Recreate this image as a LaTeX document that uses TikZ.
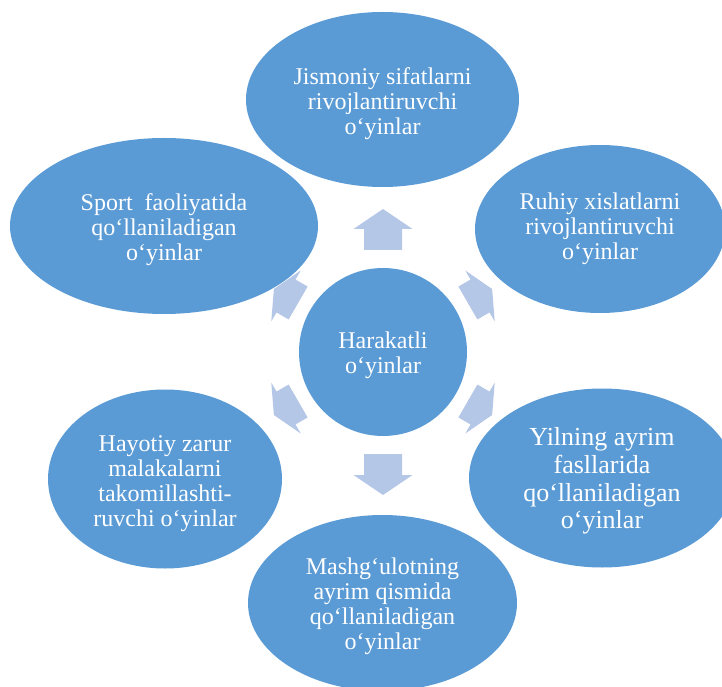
\documentclass[tikz,border=0pt]{standalone}
\usepackage{fontspec}
\setmainfont[Ligatures=NoCommon]{Liberation Serif}
\usetikzlibrary{shapes.geometric}

\definecolor{bubble}{HTML}{5B9BD5}
\definecolor{arrowfill}{HTML}{B4C7E7}

% one block arrow pointing away from the hub at angle #1,
% tail at radius #2, head base at radius #3, tip at radius #4
\newcommand\radialarrow[4]{%
  \begin{scope}[shift={(hub.center)}, rotate=#1]
    \fill[arrowfill] (#2,-19) -- (#3,-19) -- (#3,-29.5) -- (#4,0)
      -- (#3,29.5) -- (#3,19) -- (#2,19) -- cycle;
  \end{scope}}

\tikzset{
  bubblenode/.style={ellipse, fill=bubble, draw=none, inner sep=0pt},
  bubbletext/.style={text=white, align=center, inner sep=0pt,
    font=\fontsize{24}{25}\selectfont},
}

\begin{document}
\begin{tikzpicture}[x=1pt, y=1pt]
  \useasboundingbox (0,0) rectangle (722,686);
  \clip (0,0) rectangle (722,686);

  % hub
  \node[bubblenode, circle, minimum size=168pt] (hub) at (383,334) {};
  \node[bubbletext] (hub-t) at ([yshift=-3]hub.center) {Harakatli\\o‘yinlar};

  % outer bubbles
  \node[bubblenode, minimum width=273pt, minimum height=175pt] (phys) at (382.5,586.5) {};
  \node[bubbletext] (phys-t) at ([yshift=-4.5]phys.center)
    {Jismoniy sifatlarni\\rivojlantiruvchi\\o‘yinlar};

  \node[bubblenode, minimum width=250pt, minimum height=168pt] (psych) at (600,457) {};
  \node[bubbletext] (psych-t) at (psych.center)
    {Ruhiy xislatlarni\\rivojlantiruvchi\\o‘yinlar};

  \node[bubblenode, minimum width=266pt, minimum height=179pt] (season) at (602,208) {};
  \node[bubbletext, font=\fontsize{26}{27.7}\selectfont] (season-t) at ([yshift=-3]season.center)
    {Yilning ayrim\\fasllarida\\qo‘llaniladigan\\o‘yinlar};

  \node[bubblenode, minimum width=269pt, minimum height=176pt] (lesson) at (382.5,83) {};
  \node[bubbletext] (lesson-t) at ([yshift=-3]lesson.center)
    {Mashg‘ulotning\\ayrim qismida\\qo‘llaniladigan\\o‘yinlar};

  \node[bubblenode, minimum width=234pt, minimum height=179pt] (life) at (165,207) {};
  \node[bubbletext] (life-t) at ([yshift=-4.5]life.center)
    {Hayotiy zarur\\malakalarni\\takomillashti-\\ruvchi o‘yinlar};

  \node[bubblenode, minimum width=308pt, minimum height=176pt] (sport) at (164,460) {};
  \node[bubbletext] (sport-t) at ([yshift=-4]sport.center)
    {Sport\ \ faoliyatida\\qo‘llaniladigan\\o‘yinlar};

  % arrows from the hub towards each bubble
  \radialarrow{90}{102}{123}{143}
  \radialarrow{30}{98}{112}{126}
  \radialarrow{-30}{98}{112}{126}
  \radialarrow{-90}{102}{123}{143}
  \radialarrow{-150}{98}{112}{126}
  \radialarrow{150}{98}{112}{126}
\end{tikzpicture}
\end{document}
